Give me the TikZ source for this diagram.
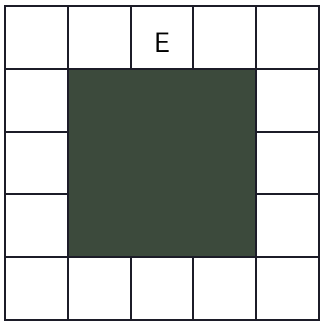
\documentclass[tikz,border=0pt]{standalone}
\usepackage{tikz}
\usepackage{xcolor}
\definecolor{boardline}{RGB}{28,28,40}
\definecolor{boardfill}{RGB}{60,74,60}

\begin{document}
\begin{tikzpicture}[x=1.57cm,y=1.57cm,line cap=rect,font=\sffamily\fontsize{20}{24}\selectfont]
\useasboundingbox (-0.0796,-0.0318) rectangle (5.0318,5.0955);
\fill[boardfill] (1,1) rectangle (4,4);
\begin{scope}[boardline,line width=1.4pt]
\draw (0,0) rectangle (5,5);
\draw (0,1) -- (5,1);
\draw (0,4) -- (5,4);
\draw (1,0) -- (1,5);
\draw (4,0) -- (4,5);
\draw (0,2) -- (1,2);
\draw (0,3) -- (1,3);
\draw (4,2) -- (5,2);
\draw (4,3) -- (5,3);
\draw (2,0) -- (2,1);
\draw (3,0) -- (3,1);
\draw (2,4) -- (2,5);
\draw (3,4) -- (3,5);
\end{scope}
\node[inner sep=0pt] (E) at (2.5,4.42) {E};
\end{tikzpicture}
\end{document}
